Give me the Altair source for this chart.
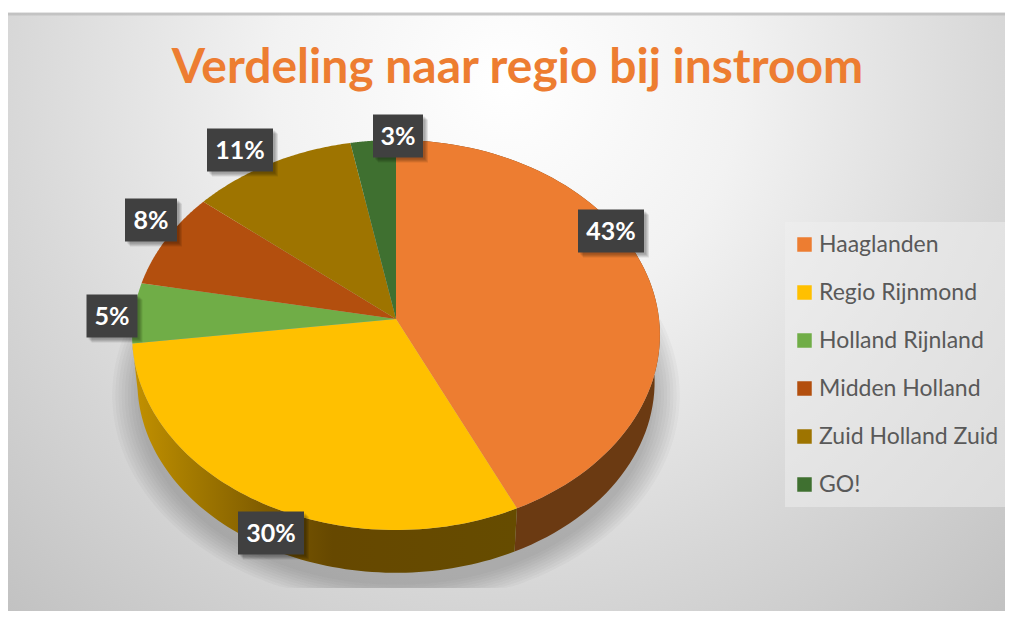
import numpy as np
import altair as alt

# ---- data ----
categories = ["Haaglanden", "Regio Rijnmond", "Holland Rijnland",
              "Midden Holland", "Zuid Holland Zuid", "GO!"]
shares = [43, 30, 5, 8, 11, 3]
colors = ["#ED7D31", "#FFC000", "#70AD47", "#B34F0E", "#9E7400", "#3F7030"]
title_text = "Verdeling naar regio bij instroom"

# ---- layout of the picture (page pixels) ----
OFF = 8
APEX = (396.0, 319.0)
RX, RY, PERSP = 263.0, 193.7, 0.082
label_centres = [(611, 231), (271, 533), (112, 316), (151, 220), (240, 150), (398, 136)]
label_widths = [66, 66, 51, 52, 66, 50]
LABEL_H = 43

cum = np.concatenate([[0], np.cumsum(shares)]) / np.sum(shares)


def rim(t0, t1, apex=APEX, s=1.0, n=80):
    """Perspective-projected circle arc, t in turns clockwise from the top."""
    th = np.linspace(t0, t1, n) * 2 * np.pi
    u, v = np.sin(th), np.cos(th)
    d = 1 + PERSP * v
    return apex[0] + s * RX * u / d, apex[1] - s * RY * v / d


def feature(xs, ys, **props):
    ring = [[float(x) - OFF, float(y) - OFF] for x, y in zip(xs, ys)]
    ring.append(ring[0])
    return {"type": "Feature", "properties": props,
            "geometry": {"type": "Polygon", "coordinates": [ring]}}


def box(cx, cy, w, h, **props):
    return feature([cx - w / 2, cx + w / 2, cx + w / 2, cx - w / 2],
                   [cy - h / 2, cy - h / 2, cy + h / 2, cy + h / 2], **props)


projection = alt.Projection(type="identity", scale=1, translate=[0, 0])
W, H = 997, 603
layers = []

# background
bg = alt.RadialGradient(
    gradient="radial", x1=0.5, y1=0.27, r1=0.0, x2=0.5, y2=0.27, r2=0.78,
    stops=[alt.GradientStop(color="#ffffff", offset=0),
           alt.GradientStop(color="#f2f2f2", offset=0.3),
           alt.GradientStop(color="#d9d9d9", offset=0.62),
           alt.GradientStop(color="#bdbdbd", offset=1)])
layers.append(alt.Chart(alt.Data(values=[box(506.5, 312, 997, 598)]))
              .mark_geoshape(fill=bg, stroke=None))
layers.append(alt.Chart(alt.Data(values=[box(506.5, 14, 997, 3)]))
              .mark_geoshape(fill="#bdbdbd", stroke=None, opacity=0.8))
# legend panel
layers.append(alt.Chart(alt.Data(values=[box(895, 364.5, 220, 285)]))
              .mark_geoshape(fill="#f0f0f0", stroke=None, opacity=0.5))

# soft shadow under the pie, cut off at the bottom like the source
shadow = []
for s in np.linspace(0.98, 1.075, 9):
    xs, ys = rim(0, 1, apex=(396, 378), s=s, n=200)
    shadow.append(feature(xs, np.minimum(ys, 588)))
layers.append(alt.Chart(alt.Data(values=shadow))
              .mark_geoshape(fill="#484848", stroke=None, opacity=0.04))

# sides
BOTTOM = (396, 366)
BS = 0.98
side_fills = [
    "#6B3A12",
    alt.LinearGradient(gradient="linear", x1=0, y1=0, x2=1, y2=0, stops=[
        alt.GradientStop(color="#C39100", offset=0),
        alt.GradientStop(color="#A67C00", offset=0.14),
        alt.GradientStop(color="#7D5A00", offset=0.36),
        alt.GradientStop(color="#664800", offset=0.52),
        alt.GradientStop(color="#664C00", offset=1)]),
]
for i, fill in enumerate(side_fills):
    tx, ty = rim(cum[i], cum[i + 1])
    bx, by = rim(cum[i], cum[i + 1], apex=BOTTOM, s=BS)
    side = feature(np.concatenate([tx, bx[::-1]]), np.concatenate([ty, by[::-1]]))
    layers.append(alt.Chart(alt.Data(values=[side])).mark_geoshape(fill=fill, stroke=None))

# top face (drives the legend)
wedges = []
for i, name in enumerate(categories):
    xs, ys = rim(cum[i], cum[i + 1])
    wedges.append(feature(np.concatenate([[APEX[0]], xs]),
                          np.concatenate([[APEX[1]], ys]), name=name))
legend = alt.Legend(
    title=None, orient="none", legendX=785, legendY=225, padding=0,
    symbolType="square", symbolSize=210,
    symbolStrokeWidth=0, labelFont="Lato", labelFontSize=23, labelColor="#595959",
    labelOffset=3, rowPadding=24, labelLimit=260)
layers.append(alt.Chart(alt.Data(values=wedges)).mark_geoshape(stroke=None).encode(
    color=alt.Color("properties.name:N", legend=legend,
                    scale=alt.Scale(domain=categories, range=colors),
                    sort=categories)))

# data labels
label_text = [f"{v}%" for v in shares]
shadows, boxes = [], []
for (cx, cy), w in zip(label_centres, label_widths):
    for dd in (2, 3, 4, 5):
        shadows.append(box(cx + dd, cy + dd, w, LABEL_H))
    boxes.append(box(cx, cy, w, LABEL_H))
layers.append(alt.Chart(alt.Data(values=shadows))
              .mark_geoshape(fill="#000000", stroke=None, opacity=0.09))
layers.append(alt.Chart(alt.Data(values=boxes))
              .mark_geoshape(fill="#404040", stroke=None))
label_rows = [{"lon": c[0] - OFF, "lat": c[1] - OFF + 1, "t": t}
              for c, t in zip(label_centres, label_text)]
layers.append(alt.Chart(alt.Data(values=label_rows))
              .mark_text(font="Lato", fontSize=25, fontWeight=700, color="#ffffff",
                         align="center", baseline="middle")
              .encode(longitude="lon:Q", latitude="lat:Q", text="t:N"))

chart = alt.layer(*layers, projection=projection).properties(
    width=W, height=H, padding=0, autosize=alt.AutoSizeParams(type="none"),
    background="#ffffff",
    title=alt.TitleParams(title_text, font="Lato", fontSize=48, fontWeight=700,
                          color="#ED7D31", anchor="middle", frame="group",
                          offset=0, dx=11, dy=85),
).configure_view(stroke=None)

chart.save("out.html", embed_options={"renderer": "svg", "actions": False})
